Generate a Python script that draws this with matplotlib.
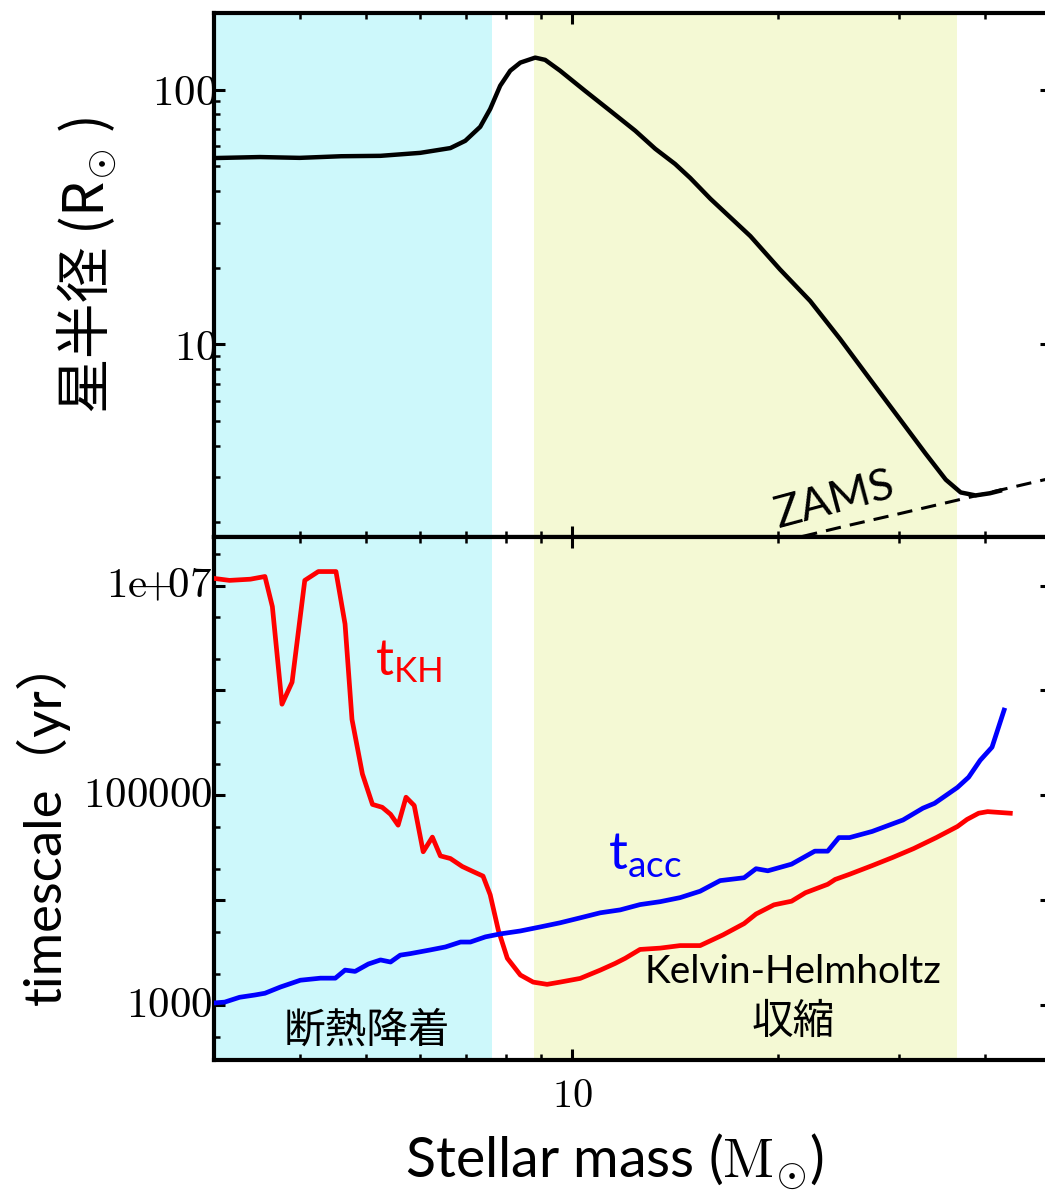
import numpy as np
import matplotlib
matplotlib.use("Agg")
import matplotlib.pyplot as plt
from matplotlib.ticker import FixedLocator, FixedFormatter, LogLocator, NullFormatter

plt.rcParams['font.family'] = ['Lato', 'Noto Sans CJK JP', 'DejaVu Sans']
plt.rcParams['mathtext.fontset'] = 'cm'
plt.rcParams['mathtext.rm'] = 'Lato'
plt.rcParams['axes.unicode_minus'] = False

## stellar radius along the accretion track
mass_r = [3.0, 3.5, 4.0, 4.6, 5.25, 6.0, 6.64, 6.98, 7.34, 7.59, 7.85, 8.12, 8.40, 8.83,
          9.13, 9.60, 10.44, 11.36, 12.36, 13.22, 14.13, 14.87, 15.91, 18.2, 20.1, 22.25,
          24.6, 27.2, 30.1, 32.8, 35.1, 36.9, 38.8, 40.7, 42.1]
radius = [53.9, 54.4, 54.0, 54.8, 55.0, 56.5, 59.0, 63.0, 71.5, 84.0, 103.7, 118.8, 127.8,
          133.7, 131.0, 118.8, 99.0, 82.7, 69.0, 58.6, 51.1, 45.0, 37.3, 26.6, 19.7, 14.8,
          10.5, 7.3, 5.07, 3.72, 2.94, 2.62, 2.55, 2.60, 2.66]

## zero-age main sequence
mass_zams = [20, 25, 30, 35, 40, 45, 50]
radius_zams = [1.67, 1.93, 2.16, 2.38, 2.59, 2.79, 2.98]

## Kelvin-Helmholtz timescale
mass_kh = [3.0, 3.16, 3.39, 3.56, 3.65, 3.77, 3.90, 4.07, 4.26, 4.52,
           4.66, 4.77, 4.94, 5.11, 5.28, 5.43, 5.57, 5.72, 5.88, 6.06,
           6.25, 6.42, 6.64, 6.91, 7.14, 7.41, 7.59, 7.80, 8.04, 8.40,
           8.77, 9.19, 9.60, 10.27, 10.99, 11.55, 11.95, 12.56, 13.44, 14.37,
           15.37, 16.6, 17.82, 18.55, 19.7, 20.9, 21.9, 23.6, 24.2, 25.4,
           27.4, 29.4, 31.5, 34.0, 36.5, 37.7, 39.2, 40.4, 43.6]
t_kh = [1.17e7, 1.12e7, 1.15e7, 1.22e7, 6.3e6, 7.4e5, 1.2e6, 1.12e7, 1.36e7, 1.36e7,
        4.3e6, 5.3e5, 1.6e5, 8.2e4, 7.7e4, 6.6e4, 5.2e4, 9.6e4, 8.0e4, 2.9e4,
        4.0e4, 2.65e4, 2.5e4, 2.1e4, 1.9e4, 1.7e4, 1.13e4, 5.2e3, 2.8e3, 1.94e3,
        1.66e3, 1.58e3, 1.66e3, 1.8e3, 2.16e3, 2.5e3, 2.8e3, 3.4e3, 3.5e3, 3.7e3,
        3.7e3, 4.68e3, 6.0e3, 7.4e3, 9.05e3, 9.8e3, 1.18e4, 1.42e4, 1.58e4, 1.77e4,
        2.14e4, 2.57e4, 3.11e4, 3.96e4, 5.05e4, 5.9e4, 6.76e4, 7.0e4, 6.76e4]

## accretion timescale
mass_acc = [3.0, 3.11, 3.27, 3.44, 3.56, 3.75, 4.01, 4.29, 4.51, 4.66,
            4.82, 5.04, 5.25, 5.43, 5.61, 5.80, 6.20, 6.53, 6.87, 7.10,
            7.47, 7.85, 8.40, 8.98, 9.60, 10.27, 10.99, 11.75, 12.56, 13.44,
            14.37, 15.37, 16.44, 17.82, 18.55, 19.3, 20.9, 22.6, 23.6, 24.5,
            25.4, 27.4, 30.4, 32.5, 33.8, 36.5, 37.9, 39.4, 41.0, 42.7]
t_acc = [1.05e3, 1.07e3, 1.19e3, 1.25e3, 1.30e3, 1.49e3, 1.73e3, 1.81e3, 1.81e3, 2.16e3,
         2.1e3, 2.47e3, 2.7e3, 2.58e3, 3.0e3, 3.1e3, 3.36e3, 3.59e3, 4.0e3, 4.0e3,
         4.48e3, 4.78e3, 5.1e3, 5.57e3, 6.1e3, 6.8e3, 7.6e3, 8.1e3, 9.1e3, 9.7e3,
         1.06e4, 1.22e4, 1.54e4, 1.64e4, 2.0e4, 1.91e4, 2.21e4, 2.94e4, 2.94e4, 3.96e4,
         3.96e4, 4.53e4, 5.83e4, 7.55e4, 8.4e4, 1.19e5, 1.49e5, 2.16e5, 2.88e5, 6.5e5]

## phases
adiabatic_span = (3.0, 7.64)
kh_span = (8.8, 36.5)

r_ticks = [10, 100]
r_labels = [r'$\mathrm{10}$', r'$\mathrm{100}$']
t_ticks = [1e3, 1e5, 1e7]
t_labels = [r'$\mathrm{1000}$', r'$\mathrm{100000}$', r'$\mathrm{1e\!{+}\!07}$']
m_ticks = [10]
m_labels = [r'$\mathrm{10}$']

fig = plt.figure(figsize=(10.45, 11.9), dpi=100)
ax1 = fig.add_axes([0.2048, 0.5487, 0.801, 0.4403])
ax2 = fig.add_axes([0.2048, 0.1092, 0.801, 0.4395], sharex=ax1)

for ax in (ax1, ax2):
    ax.axvspan(*adiabatic_span, color='#cdf8fb', lw=0, zorder=0)
    ax.axvspan(*kh_span, color='#f4f9d4', lw=0, zorder=0)
    ax.set_xscale('log')
    ax.set_yscale('log')
    for s in ax.spines.values():
        s.set_linewidth(3)
    ax.tick_params(which='both', direction='in', top=True, right=True)
    ax.tick_params(which='major', length=8, width=2.2, labelsize=31, pad=-2)
    ax.tick_params(which='minor', length=4.5, width=1.8)

ax1.set_xlim(3, 50)

## radius panel
ax1.plot(mass_r, radius, color='black', lw=3.2, zorder=3)
ax1.plot(mass_zams, radius_zams, color='black', lw=2.2, ls=(0, (5, 3)), zorder=3)
ax1.text(24.2, 2.45, 'ZAMS', fontsize=32, rotation=15, ha='center', va='center')
ax1.set_ylim(1.75, 200)
ax1.yaxis.set_major_locator(FixedLocator(r_ticks))
ax1.yaxis.set_major_formatter(FixedFormatter(r_labels))
ax1.yaxis.set_minor_locator(LogLocator(base=10, subs=np.arange(2, 10)))
ax1.yaxis.set_minor_formatter(NullFormatter())
ax1.tick_params(axis='x', labelbottom=False)
ax1.set_ylabel(r'星半径 (R$_{\odot}$ )', fontsize=40, fontfamily='Noto Sans CJK JP')
ax1.yaxis.set_label_coords(-0.113, 0.519)

## timescale panel
ax2.plot(mass_kh, t_kh, color='#ff0000', lw=3.4, zorder=3)
ax2.plot(mass_acc, t_acc, color='#0000ff', lw=3.4, zorder=3)
ax2.text(5.15, 1.4e6, r'$\mathrm{t_{KH}}$', color='#ff0000', fontsize=36,
         math_fontfamily='custom', ha='left', va='baseline')
ax2.text(11.28, 1.96e4, r'$\mathrm{t_{acc}}$', color='#0000ff', fontsize=38,
         math_fontfamily='custom', ha='left', va='baseline')
ax2.text(5.02, 575, '断熱降着', fontsize=30, ha='center', va='center')
ax2.text(21.0, 2.07e3, 'Kelvin-Helmholtz', fontsize=28, ha='center', va='center')
ax2.text(21.0, 687, '収縮', fontsize=30, ha='center', va='center')
ax2.set_ylim(300, 2.9e7)
ax2.yaxis.set_major_locator(LogLocator(base=10, numticks=20))
ax2.yaxis.set_minor_locator(LogLocator(base=10, subs=[2, 5], numticks=20))
ax2.yaxis.set_minor_formatter(NullFormatter())
ax2.yaxis.set_major_formatter(NullFormatter())
ax2.set_ylabel('timescale（yr）', fontsize=38)
ax2.yaxis.set_label_coords(-0.172, 0.459)

ax2.xaxis.set_major_locator(FixedLocator(m_ticks))
ax2.xaxis.set_major_formatter(FixedFormatter(m_labels))
ax2.xaxis.set_minor_locator(LogLocator(base=10, subs=np.arange(2, 10)))
ax2.xaxis.set_minor_formatter(NullFormatter())
ax2.tick_params(axis='x', which='major', pad=12, labelsize=29)
ax2.set_xlabel(r'Stellar mass ($\mathrm{M}_{\odot}$)', fontsize=40)
ax2.xaxis.label.set_va('center')
ax2.xaxis.set_label_coords(0.479, -0.195)

# labelled decades only: 1e3, 1e5, 1e7
for t, lab in zip(t_ticks, t_labels):
    ax2.text(-0.002, t, lab, transform=ax2.get_yaxis_transform(), fontsize=31,
             ha='right', va='center')

fig.savefig('out.png', dpi=100)
